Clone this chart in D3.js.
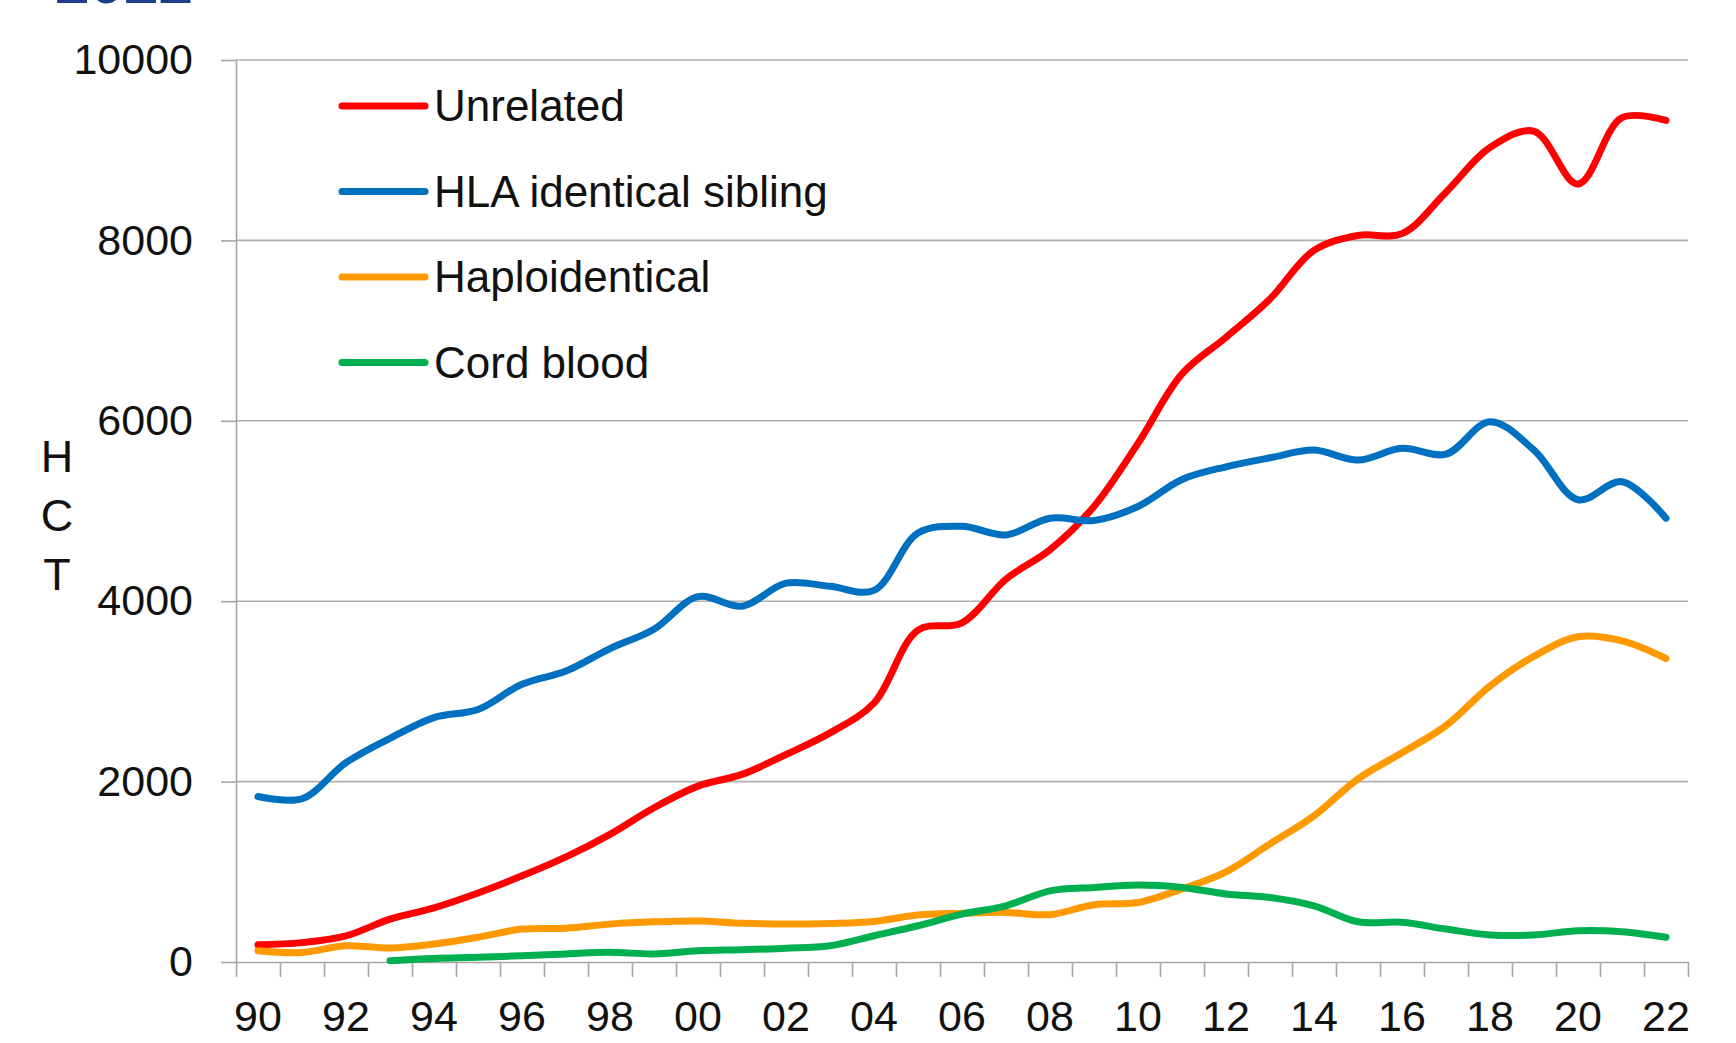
<!DOCTYPE html>
<html>
<head>
<meta charset="utf-8">
<script src="https://cdn.jsdelivr.net/npm/d3@7"></script>
<style>
  body { margin: 0; background: #fff; }
  text { font-family: "Liberation Sans", Arial, sans-serif; fill: #111; }
</style>
</head>
<body>
<div id="chart"></div>
<script>
// years on the category axis
var years = [1990, 1991, 1992, 1993, 1994, 1995, 1996, 1997, 1998, 1999, 2000, 2001, 2002, 2003, 2004, 2005,
             2006, 2007, 2008, 2009, 2010, 2011, 2012, 2013, 2014, 2015, 2016, 2017, 2018, 2019, 2020, 2021, 2022];
var yearLabels = ["90", "92", "94", "96", "98", "00", "02", "04", "06", "08", "10", "12", "14", "16", "18", "20", "22"];
var yTicks = [0, 2000, 4000, 6000, 8000, 10000];

// series (number of HCT per year)
var unrelated = [190, 215, 290, 475, 600, 765, 955, 1165, 1415, 1710, 1950, 2080, 2300, 2540, 2870, 3680, 3760, 4245, 4570, 5050,
                 5750, 6520, 6925, 7350, 7890, 8055, 8075, 8535, 9030, 9210, 8625, 9360, 9330];
var sibling = [1835, 1810, 2210, 2480, 2710, 2800, 3080, 3225, 3475, 3690, 4050, 3945, 4200, 4165, 4120, 4755, 4830, 4735, 4920, 4895,
               5050, 5350, 5490, 5590, 5675, 5565, 5695, 5630, 5990, 5675, 5125, 5325, 4920];
var haplo = [125, 105, 180, 155, 200, 275, 365, 375, 420, 445, 455, 430, 420, 428, 450, 520, 540, 550, 525, 635,
             660, 810, 1000, 1310, 1620, 2030, 2320, 2620, 3060, 3390, 3605, 3560, 3365];
var cord = [null, null, null, 15, 40, 52, 70, 90, 107, 90, 125, 136, 152, 181, 291, 402, 531, 623, 789, 827,
            853, 827, 755, 716, 623, 446, 440, 365, 300, 300, 347, 336, 274];

var seriesNames = ["Unrelated", "HLA identical sibling", "Haploidentical", "Cord blood"];
var seriesColors = ["#ff0000", "#0070c0", "#ff9900", "#00b050"];
var seriesValues = [unrelated, sibling, haplo, cord];

var W = 1736, H = 1043;
var plotLeft = 236, plotRight = 1688, plotTop = 60, plotBottom = 962;

var svg = d3.select("#chart").append("svg")
    .attr("width", W)
    .attr("height", H);

// title cut off at the top of the picture
svg.append("text")
    .attr("x", 55)
    .attr("y", 3)
    .style("font-size", "62px")
    .style("font-weight", "bold")
    .style("fill", "#203d8c")
    .text("2022");

var x = d3.scaleBand().domain(years).range([plotLeft, plotRight]).padding(0);
var xEdge = d3.scaleLinear().domain([0, years.length]).range([plotLeft, plotRight]);
var y = d3.scaleLinear().domain([0, 10000]).range([plotBottom, plotTop]);

// gridlines
svg.append("g")
  .selectAll("line")
  .data(yTicks.filter(function(d) { return d > 0; }))
  .enter().append("line")
    .attr("x1", plotLeft).attr("x2", plotRight)
    .attr("y1", function(d) { return y(d); })
    .attr("y2", function(d) { return y(d); })
    .attr("stroke", "#b0b0b0")
    .attr("stroke-width", 1.6);

// y axis
var yAxis = svg.append("g")
    .attr("transform", "translate(" + plotLeft + ",0)")
    .call(d3.axisLeft(y).tickValues(yTicks).tickFormat(d3.format("d"))
      .tickSizeInner(15).tickSizeOuter(0).tickPadding(28));
yAxis.select(".domain").attr("stroke", "#a6a6a6").attr("stroke-width", 1.6);
yAxis.selectAll(".tick line").attr("stroke", "#a6a6a6").attr("stroke-width", 1.6);
yAxis.selectAll(".tick text").style("font-size", "43px").style("font-family", "Liberation Sans, Arial, sans-serif").attr("fill", "#111");

// x axis: ticks between categories
var xTickAxis = svg.append("g")
    .attr("transform", "translate(0," + plotBottom + ")")
    .call(d3.axisBottom(xEdge).tickValues(d3.range(years.length + 1)).tickFormat("").tickSizeInner(15).tickSizeOuter(0));
xTickAxis.select(".domain").attr("stroke", "#a6a6a6").attr("stroke-width", 1.6);
xTickAxis.selectAll(".tick line").attr("stroke", "#a6a6a6").attr("stroke-width", 1.6);

// x labels at category centres
var xLab = svg.append("g")
    .attr("transform", "translate(0," + plotBottom + ")")
    .call(d3.axisBottom(x)
      .tickValues(years.filter(function(d) { return d % 2 === 0; }))
      .tickFormat(function(d) { return yearLabels[(d - 1990) / 2]; })
      .tickSize(0).tickPadding(38));
xLab.select(".domain").remove();
xLab.selectAll(".tick text").style("font-size", "43px").style("font-family", "Liberation Sans, Arial, sans-serif").attr("fill", "#111");

// y title, stacked letters
svg.append("text")
    .attr("text-anchor", "middle")
    .style("font-size", "45px")
  .selectAll("tspan")
  .data(["H", "C", "T"])
  .enter().append("tspan")
    .attr("x", 57)
    .attr("y", function(d, i) { return 472 + i * 59; })
    .text(function(d) { return d; });

// lines
var line = d3.line()
    .defined(function(d) { return d.v != null; })
    .x(function(d) { return x(d.year) + x.bandwidth() / 2; })
    .y(function(d) { return y(d.v); })
    .curve(d3.curveCatmullRom.alpha(0.5));

seriesValues.forEach(function(vals, k) {
  var pts = years.map(function(yr, i) { return { year: yr, v: vals[i] }; });
  svg.append("path")
      .datum(pts)
      .attr("fill", "none")
      .attr("stroke", seriesColors[k])
      .attr("stroke-width", 7)
      .attr("stroke-linecap", "round")
      .attr("stroke-linejoin", "round")
      .attr("d", line);
});

// legend
var legend = svg.append("g");
seriesNames.forEach(function(name, k) {
  var ly = 106 + k * 85.5;
  legend.append("line")
      .attr("x1", 342).attr("x2", 425)
      .attr("y1", ly).attr("y2", ly)
      .attr("stroke", seriesColors[k])
      .attr("stroke-width", 7)
      .attr("stroke-linecap", "round");
  legend.append("text")
      .attr("x", 434)
      .attr("y", ly)
      .attr("dy", "0.35em")
      .style("font-size", "44px")
      .text(name);
});
</script>
</body>
</html>
